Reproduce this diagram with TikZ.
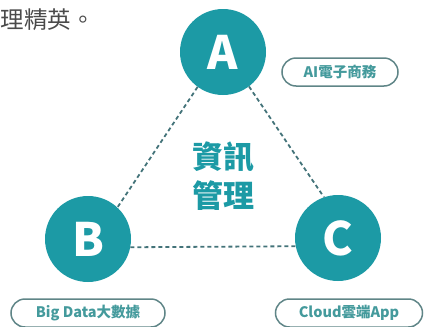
\documentclass[tikz,border=0pt]{standalone}
\usepackage{fontspec}
\newfontfamily\cjk{Noto Sans CJK TC}
\usetikzlibrary{positioning}
\definecolor{hubteal}{HTML}{1C9AA5}
\definecolor{tagline}{HTML}{5F8587}
\definecolor{tagtext}{HTML}{449A9C}
\definecolor{dashline}{HTML}{437379}
\definecolor{introgray}{HTML}{4A4A4A}

\begin{document}
\begin{tikzpicture}[x=1pt,y=1pt,
	hub/.style={circle,fill=hubteal,minimum size=86pt,inner sep=0pt,text=white,font=\cjk\bfseries\fontsize{46}{46}\selectfont},
	tag/.style={draw=tagline,line width=1.5pt,rounded corners=14pt,minimum height=28pt,inner sep=0pt,text=tagtext,font=\cjk\bfseries\fontsize{14.5}{14.5}\selectfont},
	link/.style={draw=dashline,line width=1.8pt,dash pattern=on 4pt off 3pt}]
			\useasboundingbox (0,0) rectangle (424,-327);
			% intro text, cut at the left edge
			\node[anchor=west,text=introgray,font=\cjk\fontsize{23.5}{23.5}\selectfont] (intro) at (-3,-20) {理精英。};
			% the three hubs
			\node[hub] (A) at (223,-52) {A};
			\node[hub] (B) at (88,-239) {B};
			\node[hub] (C) at (338,-238) {C};
			% centre text
			\node[align=center,text=hubteal,font=\cjk\bfseries\fontsize{31}{39}\selectfont] (core) at (223,-176) {資訊\\管理};
			% dashed triangle
			\draw[link] (A.234) -- (B.47);
			\draw[link] (A.307) -- (C.109);
			\draw[link] (B.-11) -- (C.191);
			% tags
			\node[tag,minimum width=116pt] (ai) at (340,-72) {AI電子商務};
			\node[tag,minimum width=154pt] (bigdata) at (88,-313) {Big Data大數據};
			\node[tag,minimum width=147pt] (cloud) at (349,-313) {Cloud雲端App};
\end{tikzpicture}
\end{document}
